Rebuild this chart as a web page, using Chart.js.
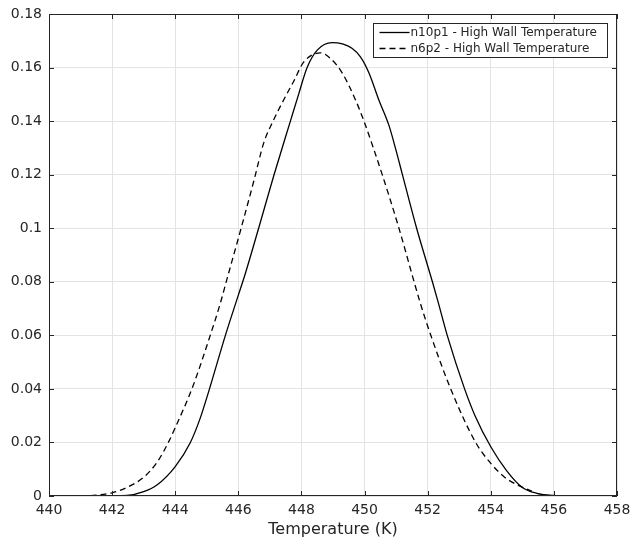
<!DOCTYPE html>
<html>
<head>
<meta charset="utf-8">
<script src="https://cdn.jsdelivr.net/npm/chart.js@4.4.0/dist/chart.umd.min.js"></script>
<style>
html,body{margin:0;padding:0;background:#fff}
#wrap{width:633px;height:541px;position:relative}
</style>
</head>
<body>
<div id="wrap"><canvas id="c"></canvas></div>
<script>
// DATA
const seriesNames=['n10p1 - High Wall Temperature','n6p2 - High Wall Temperature'];
const tempA=[441.3,442.0,442.47,443.0,443.42,444.0,444.48,444.79,445.06,445.59,446.0,446.22,446.68,447.12,447.65,447.91,448.18,448.5,448.97,449.3,449.6,449.87,450.14,450.45,450.77,451.0,451.2,451.65,452.15,452.33,452.62,453.17,453.5,454.0,454.5,455.0,455.46,456.0,456.7];
const valA=[0,0.0001,0.0002,0.0016,0.0041,0.011,0.02,0.029,0.039,0.06,0.075,0.083,0.1015,0.1195,0.14,0.150,0.160,0.1665,0.1693,0.1688,0.1672,0.164,0.158,0.148,0.1385,0.129,0.12,0.10,0.08,0.0725,0.06,0.04,0.030,0.0184,0.0095,0.0032,0.001,0.0002,0];
const tempB=[441.0,441.5,442.0,442.47,443.0,443.42,443.76,444.0,444.56,445.11,445.43,445.64,446.1,446.51,446.8,447.1,447.44,447.76,448.07,448.6,448.92,449.29,449.71,449.98,450.56,451.09,451.57,451.78,452.1,452.73,453.52,454.0,454.42,454.85,455.3];
const valB=[0,0.0003,0.0012,0.0032,0.007,0.0125,0.0195,0.0255,0.041,0.06,0.072,0.081,0.1005,0.1185,0.1317,0.14,0.148,0.155,0.162,0.1655,0.1634,0.158,0.148,0.14,0.12,0.10,0.08,0.0715,0.06,0.04,0.02,0.0122,0.0072,0.0041,0.0018];
const xTicks=[440,442,444,446,448,450,452,454,456,458];
const yTicks=[0,0.02,0.04,0.06,0.08,0.1,0.12,0.14,0.16,0.18];

const toPts=(xs,ys)=>xs.map((x,i)=>({x,y:ys[i]}));
const FONT='"DejaVu Sans", sans-serif';
const TXT='#262626';

// frame, inward ticks, legend box
const framePlugin={
  id:'frame',
  afterDraw(chart){
    const {ctx,chartArea:a,scales}=chart;
    ctx.save();
    ctx.strokeStyle='#262626';ctx.lineWidth=1;
    ctx.strokeRect(a.left+0.5,a.top+0.5,a.right-a.left-1,a.bottom-a.top-1);
    ctx.beginPath();
    xTicks.forEach(v=>{
      const px=Math.round(scales.x.getPixelForValue(v))+0.5;
      ctx.moveTo(px,a.bottom);ctx.lineTo(px,a.bottom-5);
      ctx.moveTo(px,a.top);ctx.lineTo(px,a.top+5);
    });
    yTicks.forEach(v=>{
      const py=Math.round(scales.y.getPixelForValue(v))+0.5;
      ctx.moveTo(a.left,py);ctx.lineTo(a.left+5,py);
      ctx.moveTo(a.right,py);ctx.lineTo(a.right-5,py);
    });
    ctx.stroke();
    // legend
    const bx=373.5,by=23.5,bw=234,bh=34;
    ctx.fillStyle='#fff';ctx.fillRect(bx,by,bw,bh);
    ctx.strokeStyle='#262626';ctx.strokeRect(bx,by,bw,bh);
    ctx.font='12px '+FONT;ctx.textBaseline='middle';ctx.fillStyle=TXT;
    chart.data.datasets.forEach((ds,i)=>{
      const y=by+9+i*16;
      ctx.beginPath();ctx.strokeStyle='#000';ctx.lineWidth=1.3;
      ctx.setLineDash(ds.borderDash||[]);
      ctx.moveTo(bx+6,y);ctx.lineTo(bx+36,y);ctx.stroke();
      ctx.setLineDash([]);
      ctx.fillText(ds.label,bx+37,y);
    });
    ctx.restore();
  }
};

new Chart(document.getElementById('c'),{
  type:'scatter',
  data:{datasets:[
    {label:seriesNames[0],data:toPts(tempA,valA),showLine:true,borderColor:'#000',borderWidth:1.3,pointRadius:0,cubicInterpolationMode:'monotone'},
    {label:seriesNames[1],data:toPts(tempB,valB),showLine:true,borderColor:'#000',borderWidth:1.3,borderDash:[6,4],pointRadius:0,cubicInterpolationMode:'monotone'}
  ]},
  options:{
    responsive:true,maintainAspectRatio:false,animation:false,
    layout:{padding:{left:0,right:16,top:14,bottom:0}},
    plugins:{legend:{display:false},tooltip:{enabled:false}},
    scales:{
      x:{type:'linear',min:440,max:458,
        afterBuildTicks:s=>{s.ticks=xTicks.map(v=>({value:v}))},
        afterFit:s=>{s.height=45;s.paddingLeft=0;s.paddingRight=0},
        grid:{color:'#e3e3e3',drawTicks:false},border:{display:false},
        ticks:{color:TXT,font:{family:FONT,size:14},padding:6,maxRotation:0},
        title:{display:true,text:'Temperature (K)',color:TXT,font:{family:FONT,size:16},padding:{top:0,bottom:2}}
      },
      y:{min:0,max:0.18,
        afterBuildTicks:s=>{s.ticks=yTicks.map(v=>({value:v}))},
        afterFit:s=>{s.width=49;s.paddingTop=0;s.paddingBottom=0},
        grid:{color:'#e3e3e3',drawTicks:false},border:{display:false},
        ticks:{color:TXT,font:{family:FONT,size:14},padding:7,callback:v=>String(+v.toFixed(2))}
      }
    }
  },
  plugins:[framePlugin]
});
</script>
</body>
</html>
